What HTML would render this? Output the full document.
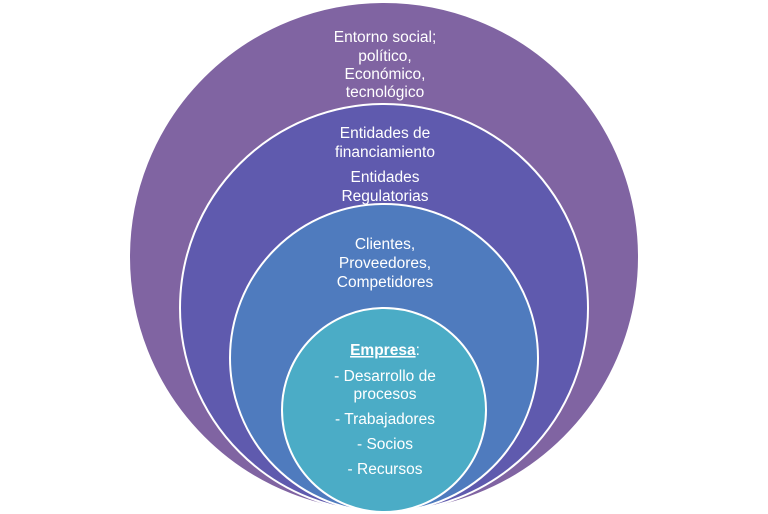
<!DOCTYPE html>
<html><head><meta charset="utf-8"><style>
html,body{margin:0;padding:0;background:#fff;}
svg{display:block;}
text{font-family:"Liberation Sans",sans-serif;font-size:15.5px;fill:#fff;text-anchor:middle;}
</style></head><body>
<svg width="768" height="514" viewBox="0 0 768 514">
<circle cx="384" cy="257" r="255" fill="#8064A2" stroke="#fff" stroke-width="2"/>
<circle cx="384" cy="308" r="204" fill="#5F5AAE" stroke="#fff" stroke-width="2"/>
<circle cx="384" cy="358" r="154" fill="#4F7BBE" stroke="#fff" stroke-width="2"/>
<circle cx="384" cy="410" r="102" fill="#4BACC6" stroke="#fff" stroke-width="2"/>
<text x="385" y="42">Entorno social;</text>
<text x="385" y="61">político,</text>
<text x="385" y="79">Económico,</text>
<text x="385" y="97">tecnológico</text>
<text x="385" y="138">Entidades de</text>
<text x="385" y="157">financiamiento</text>
<text x="385" y="182">Entidades</text>
<text x="385" y="201">Regulatorias</text>
<text x="385" y="249">Clientes,</text>
<text x="385" y="268">Proveedores,</text>
<text x="385" y="287">Competidores</text>
<text x="385" y="355"><tspan font-weight="bold" text-decoration="underline">Empresa</tspan>:</text>
<text x="385" y="381">- Desarrollo de</text>
<text x="385" y="399">procesos</text>
<text x="385" y="424">- Trabajadores</text>
<text x="385" y="449">- Socios</text>
<text x="385" y="474">- Recursos</text>
</svg>
</body></html>
